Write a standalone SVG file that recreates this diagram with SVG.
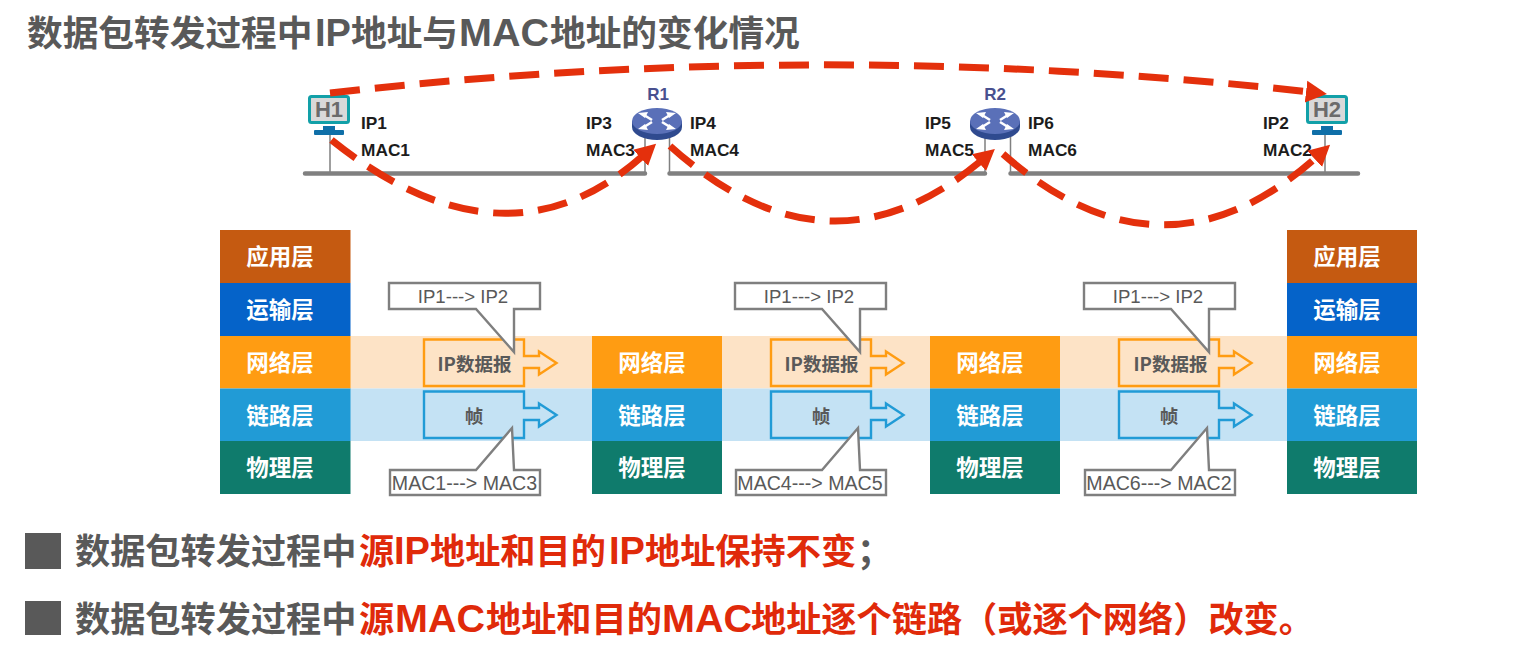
<svg xmlns="http://www.w3.org/2000/svg" width="1539" height="662" viewBox="0 0 1539 662">
<style>
text{font-family:"Liberation Sans","Noto Sans CJK SC",sans-serif}
.cjk{font-family:"Noto Sans CJK SC","Liberation Sans",sans-serif;font-weight:700}
.title{font-size:35.7px;fill:#595959}
.sum{font-size:35.2px;fill:#595959}
.lat{font-family:"Liberation Sans",sans-serif;font-weight:700;font-size:38px}
.mac{font-family:"Liberation Sans",sans-serif;font-weight:700;font-size:39.500px}
.red{fill:#E02A0A}
.lay{font-size:22.5px;fill:#fff;text-anchor:middle}
.addr{font-size:17.3px;font-weight:700;fill:#1c1c1c}
.call{fill:#fff;stroke:#7f7f7f;stroke-width:2.4}
.ctext{font-size:18.6px;fill:#595959;text-anchor:middle}
.mtext{font-size:19.6px;fill:#595959;text-anchor:middle}
.ptext{font-size:18.5px;fill:#595959;text-anchor:middle}
.net{fill:none;stroke:#808080;stroke-width:4.5;stroke-linecap:round}
.drop{fill:none;stroke:#808080;stroke-width:1.5}
.dash{fill:none;stroke:#E4300C;stroke-width:7;stroke-dasharray:30 15}
.orange{fill:#FDE3C6;stroke:#FF9C12;stroke-width:2.4}
.blue{fill:#C4E2F4;stroke:#219BD6;stroke-width:2.4}
.hostname{font-size:22px;font-weight:700;fill:#6b6b6b;text-anchor:middle}
.rname{font-size:17px;font-weight:700;fill:#48508f;text-anchor:middle}
</style>
<defs>
<marker id="ah" markerUnits="userSpaceOnUse" markerWidth="26" markerHeight="26" refX="8" refY="12" orient="auto"><path d="M0 1L21 12L0 23Z" fill="#E4300C"/></marker>
<g id="router">
<path d="M-25 0V6A25 13 0 0 0 25 6V0Z" fill="#2F4A8F"/>
<ellipse cx="0" cy="0" rx="25" ry="13" fill="#5A70B8"/>
<path d="M-5-1L-13-6M5-1L13-6M-5 1L-13 6M5 1L13 6" fill="none" stroke="#fff" stroke-width="2.6"/>
<path d="M-19-8L-9-9L-12-3ZM19-8L9-9L12-3ZM-19 8L-9 9L-12 3ZM19 8L9 9L12 3Z" fill="#fff"/>
</g>
<g id="screen">
<rect x="1.5" y="1.500" width="39" height="26" rx="2" fill="#D9D9D9" stroke="#12A0A8" stroke-width="3"/>
<rect x="15" y="31" width="12" height="5" fill="#0F6FA8"/>
<rect x="6" y="35" width="30" height="5" rx="1" fill="#0F6FA8"/>
</g>
<g id="arrowbox">
<path d="M0 0H100V16.500H115V12L132.500 23.500L115 35V28.500H100V46.500H0Z"/>
</g>
</defs>
<rect width="1539" height="662" fill="#fff"/>

<text id="title" class="cjk title" x="27" y="46">数据包转发过程中<tspan class="lat" x="315">IP</tspan><tspan x="351">地址与</tspan><tspan class="mac" x="459">MAC</tspan><tspan x="550">地址的变化情况</tspan></text>

<g id="bands">
<rect x="350" y="336" width="937" height="52.500" fill="#FDE3C6"/>
<rect x="350" y="388.500" width="937" height="52.500" fill="#C4E2F4"/>
</g>

<g id="stack-h1">
<rect x="220" y="230" width="130.500" height="53" fill="#C55A11"/><text class="cjk lay" x="280" y="265">应用层</text>
<rect x="220" y="283" width="130.500" height="53" fill="#0563C9"/><text class="cjk lay" x="280" y="318">运输层</text>
<rect x="220" y="336" width="130.500" height="52.500" fill="#FF9C12"/><text class="cjk lay" x="280" y="371">网络层</text>
<rect x="220" y="388.500" width="130.500" height="52.500" fill="#219BD6"/><text class="cjk lay" x="280" y="424">链路层</text>
<rect x="220" y="441" width="130.500" height="53" fill="#0F7B6C"/><text class="cjk lay" x="280" y="476">物理层</text>
</g>
<g id="stack-r1">
<rect x="592" y="336" width="130" height="52.500" fill="#FF9C12"/><text class="cjk lay" x="652" y="371">网络层</text>
<rect x="592" y="388.500" width="130" height="52.500" fill="#219BD6"/><text class="cjk lay" x="652" y="424">链路层</text>
<rect x="592" y="441" width="130" height="53" fill="#0F7B6C"/><text class="cjk lay" x="652" y="476">物理层</text>
</g>
<g id="stack-r2">
<rect x="930" y="336" width="130" height="52.500" fill="#FF9C12"/><text class="cjk lay" x="990" y="371">网络层</text>
<rect x="930" y="388.500" width="130" height="52.500" fill="#219BD6"/><text class="cjk lay" x="990" y="424">链路层</text>
<rect x="930" y="441" width="130" height="53" fill="#0F7B6C"/><text class="cjk lay" x="990" y="476">物理层</text>
</g>
<g id="stack-h2">
<rect x="1287" y="230" width="130" height="53" fill="#C55A11"/><text class="cjk lay" x="1347" y="265">应用层</text>
<rect x="1287" y="283" width="130" height="53" fill="#0563C9"/><text class="cjk lay" x="1347" y="318">运输层</text>
<rect x="1287" y="336" width="130" height="52.500" fill="#FF9C12"/><text class="cjk lay" x="1347" y="371">网络层</text>
<rect x="1287" y="388.500" width="130" height="52.500" fill="#219BD6"/><text class="cjk lay" x="1347" y="424">链路层</text>
<rect x="1287" y="441" width="130" height="53" fill="#0F7B6C"/><text class="cjk lay" x="1347" y="476">物理层</text>
</g>

<g id="packet-1">
<use href="#arrowbox" x="424" y="339.500" class="orange"/><text class="cjk ptext" x="474.500" y="371">IP数据报</text>
<use href="#arrowbox" x="424" y="391.500" class="blue"/><text class="cjk ptext" x="474" y="423">帧</text>
<path class="call" d="M389 283H540V309H514V352L476 309H389Z"/><text class="ctext" x="463" y="303">IP1---&gt; IP2</text>
<path class="call" d="M390 470H476L512 428L514 470H540V495H390Z"/><text class="mtext" x="464.500" y="490">MAC1---&gt; MAC3</text>
</g>
<g id="packet-2">
<use href="#arrowbox" x="771" y="339.500" class="orange"/><text class="cjk ptext" x="821.500" y="371">IP数据报</text>
<use href="#arrowbox" x="771" y="391.500" class="blue"/><text class="cjk ptext" x="821" y="423">帧</text>
<path class="call" d="M735 283H886V309H860V352L822 309H735Z"/><text class="ctext" x="809" y="303">IP1---&gt; IP2</text>
<path class="call" d="M736 470H822L858 428L860 470H886V495H736Z"/><text class="mtext" x="810" y="490">MAC4---&gt; MAC5</text>
</g>
<g id="packet-3">
<use href="#arrowbox" x="1119" y="339.500" class="orange"/><text class="cjk ptext" x="1170.500" y="371">IP数据报</text>
<use href="#arrowbox" x="1119" y="391.500" class="blue"/><text class="cjk ptext" x="1169" y="423">帧</text>
<path class="call" d="M1084 283H1235V309H1209V352L1171 309H1084Z"/><text class="ctext" x="1158" y="303">IP1---&gt; IP2</text>
<path class="call" d="M1085 470H1171L1207 428L1209 470H1235V495H1085Z"/><text class="mtext" x="1159" y="490">MAC6---&gt; MAC2</text>
</g>

<g id="network">
<path class="net" d="M305 173.500H645M669.500 173.500H985M1010.500 173.500H1358"/>
<path class="drop" d="M330 135V173M645 136V173M669.500 136V173M985 136V173M1010.500 136V173M1325 135V173"/>
</g>

<g id="H1">
<use href="#screen" x="308" y="95"/><text class="hostname" x="329" y="117">H1</text>
<text class="addr" x="361" y="129">IP1</text><text class="addr" x="361" y="156">MAC1</text>
</g>
<g id="R1">
<use href="#router" x="657" y="121"/><text class="rname" x="658" y="100">R1</text>
<text class="addr" x="586" y="129">IP3</text><text class="addr" x="586" y="156">MAC3</text>
<text class="addr" x="690" y="129">IP4</text><text class="addr" x="690" y="156">MAC4</text>
</g>
<g id="R2">
<use href="#router" x="995" y="121"/><text class="rname" x="995" y="100">R2</text>
<text class="addr" x="925" y="129">IP5</text><text class="addr" x="925" y="156">MAC5</text>
<text class="addr" x="1028" y="129">IP6</text><text class="addr" x="1028" y="156">MAC6</text>
</g>
<g id="H2">
<use href="#screen" x="1306" y="95"/><text class="hostname" x="1327" y="117">H2</text>
<text class="addr" x="1263" y="129">IP2</text><text class="addr" x="1263" y="156">MAC2</text>
</g>

<g id="connectors">
<path class="dash" d="M330 93Q825 37 1314 92.500" marker-end="url(#ah)"/>
<path class="dash" d="M331.500 140Q507 280 646.500 152.500" marker-end="url(#ah)"/>
<path class="dash" d="M670 146Q830 290 985 157.500" marker-end="url(#ah)"/>
<path class="dash" d="M1003 154Q1165 296 1320.500 153.500" marker-end="url(#ah)"/>
</g>

<g id="summary">
<rect x="25" y="533" width="36" height="36" fill="#595959"/>
<text class="cjk sum" x="75" y="564">数据包转发过程中<tspan class="red" x="359">源</tspan><tspan class="red lat" x="394">IP</tspan><tspan class="red" x="430">地址和目的</tspan><tspan class="red lat" x="609">IP</tspan><tspan class="red" x="645">地址保持不变</tspan><tspan x="857">；</tspan></text>
<rect x="25" y="601" width="36" height="34" fill="#595959"/>
<text class="cjk sum" x="75" y="632">数据包转发过程中<tspan class="red" x="359">源</tspan><tspan class="red mac" x="395">MAC</tspan><tspan class="red" x="486">地址和目的</tspan><tspan class="red mac" x="662">MAC</tspan><tspan class="red" x="751">地址逐个链路（或逐个网络）改变。</tspan></text>
</g>
</svg>
